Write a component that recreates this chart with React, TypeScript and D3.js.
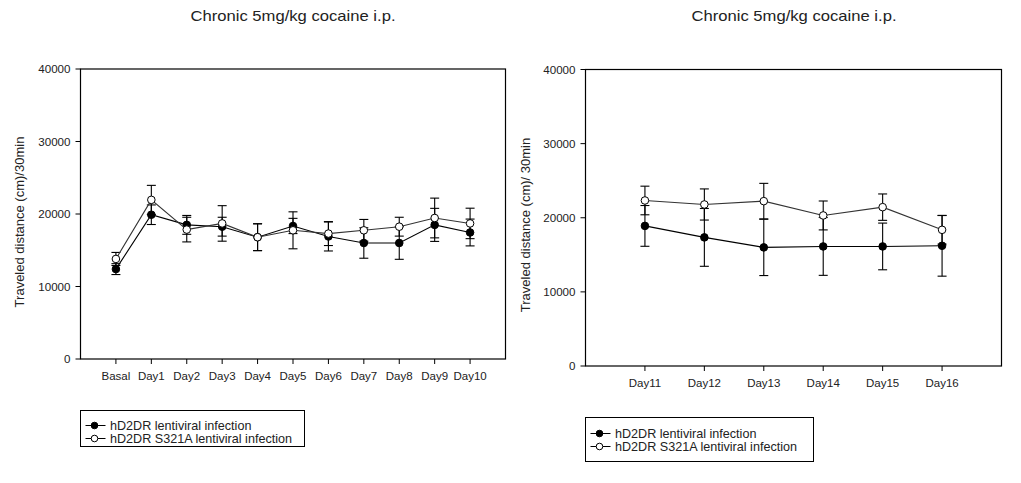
import React from 'react';
import * as d3 from 'd3';

const leftCategories = ['Basal', 'Day1', 'Day2', 'Day3', 'Day4', 'Day5', 'Day6', 'Day7', 'Day8', 'Day9', 'Day10'];
const leftWT = [12400, 19900, 18500, 18250, 16800, 18350, 16900, 16000, 16000, 18500, 17450];
const leftWTErr = [750, 1350, 1300, 1300, 1850, 1050, 2000, 2100, 2250, 2280, 1850];
const leftMut = [13800, 21950, 17850, 18700, 16800, 17750, 17300, 17750, 18250, 19450, 18700];
const leftMutErr = [900, 2000, 1700, 2450, 1850, 2550, 1650, 1500, 1300, 2740, 2100];

const rightCategories = ['Day11', 'Day12', 'Day13', 'Day14', 'Day15', 'Day16'];
const rightWT = [18900, 17350, 16000, 16130, 16130, 16220];
const rightWTErr = [2750, 3900, 3800, 3900, 3150, 4100];
const rightMut = [22330, 21790, 22240, 20310, 21430, 18370];
const rightMutErr = [1930, 2100, 2400, 1950, 1780, 1930];

const yTicks = [0, 10000, 20000, 30000, 40000];
const titleText = 'Chronic 5mg/kg cocaine i.p.';
const seriesNames = ['hD2DR lentiviral infection', 'hD2DR S321A lentiviral infection'];

const FONT = '"Liberation Sans", Arial, Helvetica, sans-serif';

type PanelProps = {
  left: number; right: number; top: number; bottom: number;
  cats: string[];
  wt: number[]; wtErr: number[]; mut: number[]; mutErr: number[];
  title: string; titleX: number;
  yLabel: string; yLabelX: number; yLabelY: number;
  legend: { x: number; y: number; w: number; h: number; tx: number; row0: number };
};

function Panel(p: PanelProps) {
  const x = d3.scalePoint<string>().domain(p.cats).range([p.left, p.right]).padding(1);
  const y = d3.scaleLinear().domain([0, 40000]).range([p.bottom, p.top]);
  const line = d3.line<number>().x((_, i) => x(p.cats[i]) as number).y((d) => y(d));
  const cap = 4.5;
  const r = 3.8;

  const errBars = (vals: number[], errs: number[], key: string) =>
    vals.map((v, i) => {
      const cx = x(p.cats[i]) as number;
      const y1 = y(v + errs[i]);
      const y2 = y(v - errs[i]);
      return (
        <g key={key + i} stroke="#000" strokeWidth={1.1}>
          <line x1={cx} x2={cx} y1={y1} y2={y2} />
          <line x1={cx - cap} x2={cx + cap} y1={y1} y2={y1} />
          <line x1={cx - cap} x2={cx + cap} y1={y2} y2={y2} />
        </g>
      );
    });

  const lg = p.legend;
  return (
    <g fontFamily={FONT}>
      <text x={p.titleX} y={21} textAnchor="middle" fontSize={15} fill="#222"
        textLength={205} lengthAdjust="spacingAndGlyphs">{p.title}</text>
      <text
        transform={`translate(${p.yLabelX},${p.yLabelY}) rotate(-90)`}
        textAnchor="middle" fontSize={13} fill="#222"
      >{p.yLabel}</text>
      <rect x={p.left} y={p.top} width={p.right - p.left} height={p.bottom - p.top} fill="none" stroke="#000" strokeWidth={1.2} />
      {yTicks.map((t) => (
        <g key={'yt' + t}>
          <line x1={p.left - 5} x2={p.left} y1={y(t)} y2={y(t)} stroke="#000" strokeWidth={1} />
          <text x={p.left - 10} y={y(t) + 4} textAnchor="end" fontSize={11.6} fill="#222">{t}</text>
        </g>
      ))}
      {p.cats.map((c) => (
        <g key={'xt' + c}>
          <line x1={x(c) as number} x2={x(c) as number} y1={p.bottom} y2={p.bottom + 5} stroke="#000" strokeWidth={1} />
          <text x={x(c) as number} y={p.bottom + 21} textAnchor="middle" fontSize={11.5} fill="#222">{c}</text>
        </g>
      ))}
      {errBars(p.wt, p.wtErr, 'ew')}
      <path d={line(p.wt) as string} fill="none" stroke="#000" strokeWidth={1.1} />
      {p.wt.map((v, i) => (
        <circle key={'cw' + i} cx={x(p.cats[i]) as number} cy={y(v)} r={r} fill="#000" stroke="#000" strokeWidth={1} />
      ))}
      {errBars(p.mut, p.mutErr, 'em')}
      <path d={line(p.mut) as string} fill="none" stroke="#333" strokeWidth={1.1} />
      {p.mut.map((v, i) => (
        <circle key={'cm' + i} cx={x(p.cats[i]) as number} cy={y(v)} r={r} fill="#fff" stroke="#000" strokeWidth={1} />
      ))}
      <rect x={lg.x} y={lg.y} width={lg.w} height={lg.h} fill="none" stroke="#000" strokeWidth={1} />
      {seriesNames.map((s, i) => {
        const ry = lg.y + lg.row0 + i * 13;
        return (
          <g key={'lg' + i}>
            <line x1={lg.x + 5} x2={lg.x + 25} y1={ry} y2={ry} stroke="#000" strokeWidth={1} />
            <circle cx={lg.x + 14} cy={ry} r={3.3} fill={i === 0 ? '#000' : '#fff'} stroke="#000" strokeWidth={1} />
            <text x={lg.tx} y={ry + 4.5} fontSize={12.6} fill="#222">{s}</text>
          </g>
        );
      })}
    </g>
  );
}

export default function App() {
  return (
    <svg width={1021} height={483} style={{ position: 'absolute', left: 0, top: 0, background: '#fff' }}>
      <rect width={1021} height={483} fill="#fff" />
      <Panel
        left={80.5} right={505.5} top={69} bottom={359}
        cats={leftCategories} wt={leftWT} wtErr={leftWTErr} mut={leftMut} mutErr={leftMutErr}
        title={titleText} titleX={293}
        yLabel="Traveled distance (cm)/30min" yLabelX={24} yLabelY={222}
        legend={{ x: 80.5, y: 410.5, w: 224, h: 36, tx: 110, row0: 15 }}
      />
      <Panel
        left={585.5} right={1001.5} top={69.5} bottom={366}
        cats={rightCategories} wt={rightWT} wtErr={rightWTErr} mut={rightMut} mutErr={rightMutErr}
        title={titleText} titleX={794}
        yLabel="Traveled distance (cm)/ 30min" yLabelX={530} yLabelY={225}
        legend={{ x: 585.5, y: 417.5, w: 228, h: 44, tx: 615, row0: 16 }}
      />
    </svg>
  );
}
